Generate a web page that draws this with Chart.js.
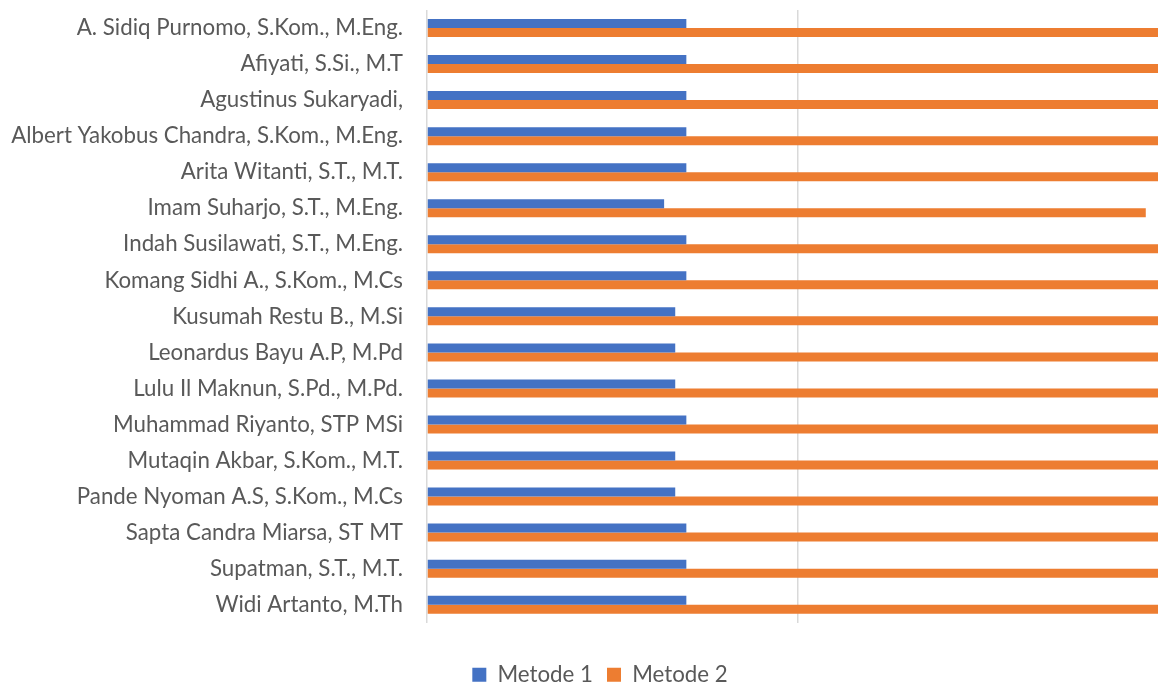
<!DOCTYPE html>
<html lang="id">
<head>
  <meta charset="UTF-8" />
  <title>Metode 1 vs Metode 2</title>
  <script src="https://cdn.jsdelivr.net/npm/chart.js@4/dist/chart.umd.min.js"></script>
  <style>
    html, body { margin: 0; padding: 0; background: #fff; }
    .wrap { width: 1158px; height: 684px; }
  </style>
</head>
<body>
  <div class="wrap">
    <canvas id="dosenChart" width="1158" height="684"></canvas>
  </div>

  <script>
    // nama dosen (urutan dari atas ke bawah)
    const dosen = [
      "A. Sidiq Purnomo, S.Kom., M.Eng.",
      "Afiyati, S.Si., M.T",
      "Agustinus Sukaryadi,",
      "Albert Yakobus Chandra, S.Kom., M.Eng.",
      "Arita Witanti, S.T., M.T.",
      "Imam Suharjo, S.T., M.Eng.",
      "Indah Susilawati, S.T., M.Eng.",
      "Komang Sidhi A., S.Kom., M.Cs",
      "Kusumah Restu B., M.Si",
      "Leonardus Bayu A.P, M.Pd",
      "Lulu Il Maknun, S.Pd., M.Pd.",
      "Muhammad Riyanto, STP MSi",
      "Mutaqin Akbar, S.Kom., M.T.",
      "Pande Nyoman A.S, S.Kom., M.Cs",
      "Sapta Candra Miarsa, ST MT",
      "Supatman, S.T., M.T.",
      "Widi Artanto, M.Th"
    ];

    const metode1 = [0.70, 0.70, 0.70, 0.70, 0.70, 0.64, 0.70, 0.70, 0.67,
                     0.67, 0.67, 0.70, 0.67, 0.67, 0.70, 0.70, 0.70];
    const metode2 = [2.00, 2.00, 2.00, 2.00, 2.00, 1.94, 2.00, 2.00, 2.00,
                     2.00, 2.00, 2.00, 2.00, 2.00, 2.00, 2.00, 2.00];

    const FONT = "Lato, 'Open Sans', sans-serif";
    const FONT_SIZE = 22.3;

    // geser legenda sedikit ke kanan & ke bawah
    const legendShift = {
      id: "legendShift",
      afterLayout(chart) {
        const lg = chart.legend;
        if (!lg) return;
        lg.left += 21; lg.right += 21;
        lg.top += 12; lg.bottom += 12;
      }
    };

    const ctx = document.getElementById("dosenChart").getContext("2d");
    const chart = new Chart(ctx, {
      type: "bar",
      data: {
        labels: dosen,
        datasets: [
          {
            label: "Metode 1",
            data: metode1,
            backgroundColor: "#4472C4",
            categoryPercentage: 0.5,
            barPercentage: 1.0
          },
          {
            label: "Metode 2",
            data: metode2,
            backgroundColor: "#ED7D31",
            categoryPercentage: 0.5,
            barPercentage: 1.0
          }
        ]
      },
      options: {
        indexAxis: "y",
        responsive: false,
        animation: false,
        layout: { padding: { top: 10, right: 0, bottom: 0, left: 0 } },
        scales: {
          x: {
            min: 0,
            max: 1.973, // sumbu terpotong sedikit sebelum 2
            ticks: { display: false, stepSize: 1, includeBounds: false },
            grid: { color: "#D9D9D9", lineWidth: 1.5, drawTicks: false },
            border: { display: false },
            afterFit: (s) => { s.height = 15; }
          },
          y: {
            grid: { display: false, drawTicks: false },
            border: { display: false },
            ticks: {
              color: "#595959",
              padding: 24,
              font: { family: FONT, size: FONT_SIZE }
            },
            afterFit: (s) => {
              s.width = 427;
              s.paddingTop = 0;
              s.paddingBottom = 0;
            }
          }
        },
        plugins: {
          tooltip: { enabled: false },
          legend: {
            position: "bottom",
            labels: {
              color: "#595959",
              boxWidth: 14,
              boxHeight: 14,
              padding: 14,
              font: { family: FONT, size: FONT_SIZE }
            }
          }
        }
      },
      plugins: [legendShift]
    });
  </script>
</body>
</html>
